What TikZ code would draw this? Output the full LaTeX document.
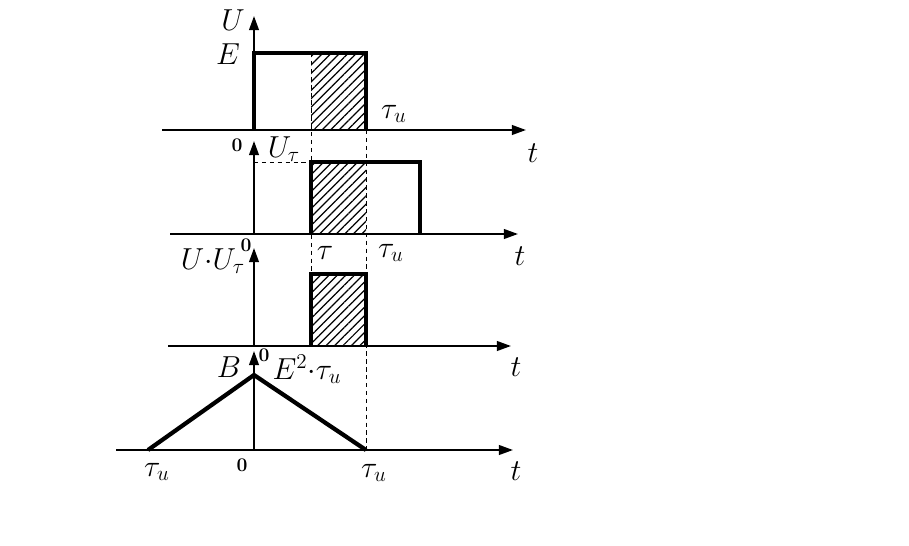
\documentclass[tikz,border=0pt]{standalone}
\usetikzlibrary{arrows.meta, patterns.meta}

\tikzset{
    axis/.style={line width=1.1pt, -{Triangle[length=8pt,width=5.5pt]}},
    pulse/.style={line width=2.4pt, line join=miter},
    guide/.style={dashed, line width=0.5pt, dash pattern=on 2.5pt off 2pt},
    hatch/.style={pattern={Lines[angle=45,distance=3.4pt,line width=0.7pt]}},
    lbl/.style={font=\fontsize{17}{19}\selectfont, inner sep=0pt},
    zero/.style={font=\fontsize{11}{13}\selectfont\bfseries, inner sep=0pt}
}

\begin{document}
\begin{tikzpicture}[x=0.02cm, y=-0.02cm]
    \useasboundingbox (0,0) rectangle (909,545);
    % Guide lines
    \draw[guide] (311,53) -- (311,274);
    \draw[guide] (366,130) -- (366,450);
    \draw[guide] (254,162) -- (311,162);
    % Panel 1: U(t)
    \fill[hatch] (311,53) rectangle (366,130);
    \draw[axis] (162,130) -- (526,130);
    \draw[axis] (254,130) -- (254,16);
    \draw[pulse] (254,130) -- (254,53) -- (366,53) -- (366,130);
    \node[lbl] (labU) at (233,20) {$U$};
    \node[lbl] (labE) at (228,54) {$E$};
    \node[lbl] (labTu1) at (394,114) {$\tau_u$};
    \node[zero] (zero1) at (237,145) {0};
    \node[lbl] (labT1) at (533,153) {$t$};
    % Panel 2: U_tau(t)
    \fill[hatch] (311,162) rectangle (366,234);
    \draw[axis] (170,234) -- (518,234);
    \draw[axis] (254,234) -- (254,141);
    \draw[pulse] (311,234) -- (311,162) -- (420,162) -- (420,234);
    \node[lbl] (labUt) at (284,149) {$U_\tau$};
    \node[lbl] (labTau) at (325,253) {$\tau$};
    \node[lbl] (labTu2) at (391,253) {$\tau_u$};
    \node[lbl] (labT2) at (520,256) {$t$};
    % Panel 3: product
    \fill[hatch] (311,274) rectangle (366,346);
    \draw[axis] (168,346) -- (511,346);
    \draw[axis] (254,346) -- (254,248);
    \draw[pulse] (311,346) -- (311,274) -- (366,274) -- (366,346);
    \node[lbl] (labUU) at (213,261) {$U{\cdot}U_\tau$};
    \node[zero] (zero3) at (246,245) {0};
    \node[lbl] (labT3) at (516,367) {$t$};
    % Panel 4: B(t)
    \draw[axis] (116,450) -- (513,450);
    \draw[axis] (254,450) -- (254,351);
    \draw[pulse] (148,450) -- (254,375) -- (366,450);
    \node[lbl] (labB) at (229,367) {$B$};
    \node[zero] (zero4) at (264,355) {0};
    \node[lbl] (labE2) at (307,369) {$E^2{\cdot}\tau_u$};
    \node[lbl] (labTuL) at (157,472) {$\tau_u$};
    \node[zero] (zero5) at (242,465) {0};
    \node[lbl] (labTuR) at (374,473) {$\tau_u$};
    \node[lbl] (labT4) at (516,471) {$t$};
\end{tikzpicture}
\end{document}
